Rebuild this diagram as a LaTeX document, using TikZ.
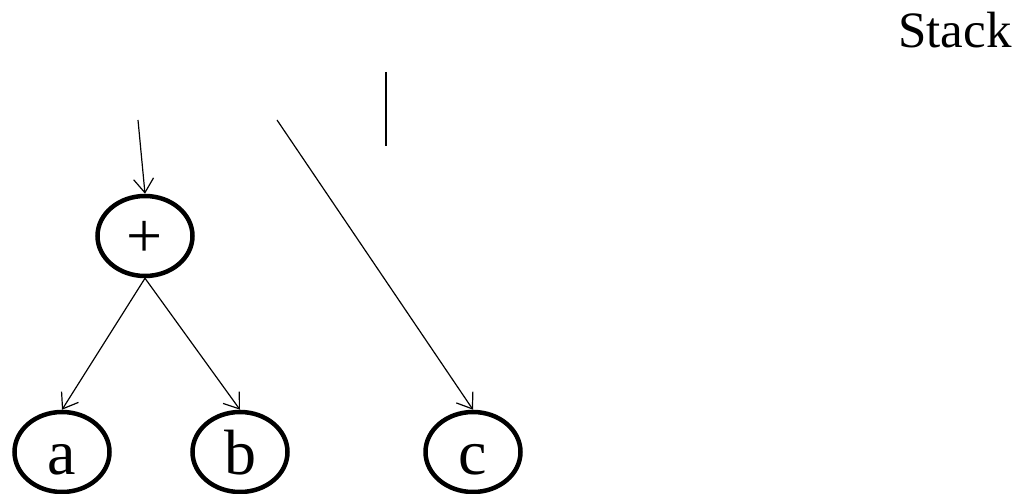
\documentclass[tikz,border=0pt]{standalone}
\usepackage{fontspec}
\setmainfont{Liberation Serif}
\usetikzlibrary{shapes.geometric,arrows.meta}
\begin{document}
\begin{tikzpicture}[x=1pt,y=-1pt,
  treenode/.style={ellipse,draw,line width=4.5pt,minimum width=95pt,minimum height=80pt,inner sep=0pt,
    font=\fontsize{64}{64}\selectfont,text height=44pt,text depth=0pt},
  edge/.style={line width=1.2pt,-{Straight Barb[length=14pt,width=20pt,line width=1.2pt]}}]
\useasboundingbox (0,0) rectangle (1020,494);
\node[treenode] (plus) at (145,236) {+};
\node[treenode] (a) at (62,452) {a};
\node[treenode] (b) at (240,452) {b};
\node[treenode] (c) at (473,452) {c};
\coordinate (ptop) at (138,120);
\coordinate (ctop) at (277,120);
\coordinate (bar1) at (386,72);
\coordinate (bar2) at (386,146);
\node[font=\fontsize{51}{51}\selectfont,anchor=base] (stack) at (955,48) {Stack};
\draw[edge] (ptop) -- (plus.north);
\draw[edge] (plus.south) -- (a.north);
\draw[edge] (plus.south) -- (b.north);
\draw[edge] (ctop) -- (c.north);
\draw[line width=2pt] (bar1) -- (bar2);
\end{tikzpicture}
\end{document}
